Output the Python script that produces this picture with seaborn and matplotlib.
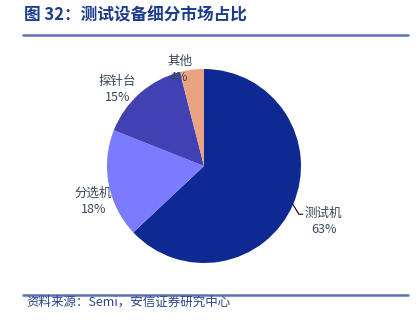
import matplotlib
matplotlib.use("Agg")
import matplotlib.pyplot as plt
import seaborn as sns
import numpy as np

# Market share of test-equipment segments
segments = ["测试机", "分选机", "探针台", "其他"]
shares = [63, 18, 15, 4]
slice_colors = ["#0E2A92", "#7B7BFF", "#4141B3", "#E9A383"]

title_text = "图 32：测试设备细分市场占比"
source_text = "资料来源：Semi，安信证券研究中心"

sns.set_theme(style="white")
plt.rcParams["font.family"] = ["Noto Sans CJK SC", "DejaVu Sans"]

fig = plt.figure(figsize=(4.19, 3.23), dpi=100)
W, H = 419, 323

# header and footer rules
for y in (35, 295):
    fig.add_artist(plt.Line2D([23 / W, 408 / W], [1 - y / H, 1 - y / H],
                              color="#5D70B3", lw=1.8))
fig.text(24 / W, 1 - 15 / H, title_text, fontsize=12, fontweight="bold",
         color="#1C3C8C", va="center", ha="left")
fig.text(26 / W, 1 - 302 / H, source_text, fontsize=9, style="italic",
         color="#2A4590", va="center", ha="left")

# pie axes: centre (204,166) px, radius 97 px
cx, cy, r = 204, 166, 97
ax = fig.add_axes([(cx - r) / W, 1 - (cy + r) / H, 2 * r / W, 2 * r / H])
palette = sns.color_palette(slice_colors)
wedges, _ = ax.pie(shares, colors=palette, startangle=90, counterclock=False,
                   radius=1.0, wedgeprops=dict(linewidth=0))
ax.set_xlim(-1, 1)
ax.set_ylim(-1, 1)
ax.set_aspect("auto")
ax.axis("off")

label_color = "#3A4658"
# label distances from centre (in radii) and angular nudges per segment
label_dist = [1.36, 1.20, 1.19, 1.03]
angle_nudge = [-1.5, 7.0, 7.0, 7.0]

for w, name, val, d, nud in zip(wedges, segments, shares, label_dist, angle_nudge):
    mid = np.deg2rad((w.theta1 + w.theta2) / 2 + nud)
    x, y = d * np.cos(mid), d * np.sin(mid)
    ax.text(x, y + 0.085, name, ha="center", va="center", fontsize=9,
            color=label_color)
    ax.text(x, y - 0.085, f"{val}%", ha="center", va="center", fontsize=9,
            color=label_color)

# leader line for the largest segment
w0 = wedges[0]
m0 = np.deg2rad((w0.theta1 + w0.theta2) / 2)
ex, ey = np.cos(m0), np.sin(m0)
ax.plot([ex, ex + 0.06, ex + 0.10], [ey, ey - 0.10, ey - 0.10],
        color="black", lw=0.8, clip_on=False)

fig.savefig("out.png", dpi=100)
